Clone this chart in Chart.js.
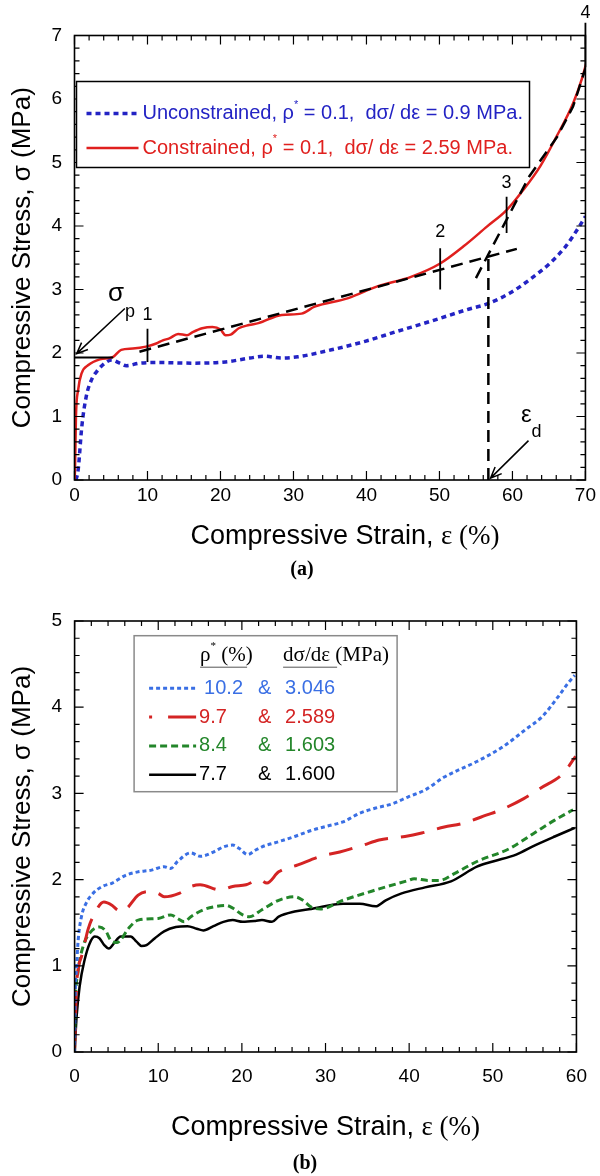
<!DOCTYPE html>
<html lang="en">
<head>
<meta charset="UTF-8">
<title>Compressive stress - strain</title>
<script src="https://cdn.jsdelivr.net/npm/chart.js"></script>
<style>
  body { margin: 0; background: #fff; }
  .box { position: absolute; left: 0; width: 600px; }
  #boxA { top: 0; height: 590px; }
  #boxB { top: 590px; height: 586px; }
  .cap { position: absolute; width: 80px; text-align: center; font: bold 20px "Liberation Serif"; color: #000; }
  #capA { left: 262px; top: 557px; }
  #capB { left: 265px; top: 1151px; }
</style>
</head>
<body>
  <div class="box" id="boxA"><canvas id="chartA" width="600" height="590"></canvas></div>
  <div class="cap" id="capA">(a)</div>
  <div class="box" id="boxB"><canvas id="chartB" width="600" height="586"></canvas></div>
  <div class="cap" id="capB">(b)</div>

<script>
// ---- (a) rho* = 0.1 ----
const strainUnc = [0.2, 0.5, 1.0, 1.6, 2.3, 3.2, 4.4, 5.1, 6.2, 7.1, 8.9, 11.6, 16.2, 20.7, 24, 26, 28.4, 30.6, 35.2, 39.7, 44.2, 48.8, 53.7, 56.7, 59.6, 62.3, 65.1, 67.3, 69.2, 70];
const stressUnc = [0, 0.16, 0.84, 1.31, 1.57, 1.73, 1.86, 1.89, 1.84, 1.80, 1.84, 1.85, 1.84, 1.86, 1.92, 1.95, 1.92, 1.94, 2.05, 2.18, 2.34, 2.50, 2.68, 2.78, 2.94, 3.15, 3.41, 3.68, 4.0, 4.15];
const strainCon = [0, 0.07, 0.2, 0.5, 0.97, 1.9, 3.5, 5.3, 6.4, 8.0, 9.8, 11.2, 12.1, 13.0, 14.2, 15.4, 16.2, 17.5, 18.9, 20.0, 20.7, 21.4, 22.5, 23.9, 25.2, 28.4, 31.1, 32.9, 37.4, 41.5, 46.1, 50.1, 53.3, 56.5, 59.2, 61.5, 63.8, 66.0, 68.3, 69.6, 70.2];
const stressCon = [0, 0.16, 1.0, 1.42, 1.68, 1.81, 1.90, 1.94, 2.05, 2.07, 2.10, 2.15, 2.20, 2.23, 2.30, 2.28, 2.33, 2.39, 2.41, 2.37, 2.28, 2.29, 2.39, 2.44, 2.47, 2.60, 2.62, 2.73, 2.86, 3.05, 3.20, 3.41, 3.68, 3.99, 4.25, 4.57, 4.94, 5.40, 5.93, 6.35, 6.60];
const fitPlateauStrain = [8.9, 60.6];
const fitPlateauStress = [2.02, 3.64];
const fitDensStrain = [55.0, 62.3, 66.1, 68.3, 70.4];
const fitDensStress = [3.18, 4.78, 5.40, 5.88, 6.62];
const sigmaPStrain = [0, 5.3];
const sigmaPStress = [1.93, 1.93];
const epsDStrain = [56.7, 56.7];
const epsDStress = [0, 3.5];
const markStrain = [10, 50.1, 59.2, 70];
const markLow = [1.86, 3.0, 3.89, 6.5];
const markHigh = [2.38, 3.65, 4.46, 7.2];
const markText = ['1', '2', '3', '4'];
const markTextStress = [2.6, 3.9, 4.68, 7.36];
const legendNamesA = ['Unconstrained', 'Constrained'];
const rhoA = ['0.1', '0.1'];
const slopeA = ['0.9', '2.59'];

// ---- (b) four densities ----
const densB = ['10.2', '9.7', '8.4', '7.7'];
const slopeB = ['3.046', '2.589', '1.603', '1.600'];
const strainB1 = [0, 0.05, 0.24, 0.43, 0.82, 1.4, 2.2, 3.3, 4.5, 6.1, 7.6, 9.2, 10.7, 11.5, 12.3, 13.9, 15.0, 16.6, 17.8, 18.9, 19.7, 20.7, 21.6, 22.4, 24.4, 26.3, 28.3, 30.2, 32.1, 34.1, 36.0, 38.0, 39.9, 41.9, 44.2, 48.1, 51.2, 53.9, 55.9, 57.8, 59.0, 59.8];
const stressB1 = [0, 0.53, 0.99, 1.3, 1.57, 1.73, 1.84, 1.92, 1.96, 2.05, 2.09, 2.11, 2.15, 2.13, 2.21, 2.31, 2.27, 2.32, 2.38, 2.40, 2.36, 2.29, 2.34, 2.38, 2.44, 2.50, 2.57, 2.62, 2.67, 2.77, 2.83, 2.88, 2.96, 3.04, 3.19, 3.37, 3.54, 3.74, 3.89, 4.12, 4.28, 4.37];
const strainB2 = [0, 0.2, 0.5, 0.83, 1.2, 1.6, 2.2, 3.5, 4.5, 5.1, 5.7, 6.3, 7.6, 8.8, 10.0, 10.7, 12.5, 13.9, 15.0, 17.4, 18.9, 20.5, 22.1, 23.0, 24.4, 26.7, 29.4, 31.7, 34.5, 36.4, 39.5, 41.5, 44.2, 46.3, 49.3, 51.0, 53.7, 55.7, 58.4, 59.9];
const stressB2 = [0, 0.7, 1.0, 1.11, 1.26, 1.42, 1.57, 1.74, 1.70, 1.65, 1.63, 1.67, 1.82, 1.86, 1.84, 1.80, 1.84, 1.92, 1.94, 1.88, 1.92, 1.94, 2.0, 1.96, 2.09, 2.17, 2.27, 2.32, 2.40, 2.46, 2.50, 2.54, 2.61, 2.65, 2.75, 2.81, 2.94, 3.06, 3.23, 3.43];
const strainB3 = [0, 0.05, 0.4, 1.0, 1.8, 2.97, 3.75, 4.3, 5.1, 5.5, 6.5, 7.6, 10.0, 11.5, 12.3, 13.1, 13.9, 15.4, 17.0, 18.1, 18.9, 20.1, 20.9, 22.4, 24.4, 26.3, 27.3, 28.3, 29.4, 32.1, 36.0, 39.9, 40.6, 42.3, 43.6, 45.4, 48.1, 52.0, 55.1, 57.4, 59.6];
const stressB3 = [0, 0.41, 0.92, 1.22, 1.38, 1.45, 1.40, 1.30, 1.27, 1.30, 1.44, 1.53, 1.55, 1.59, 1.55, 1.51, 1.57, 1.65, 1.69, 1.70, 1.67, 1.59, 1.57, 1.65, 1.76, 1.80, 1.76, 1.68, 1.66, 1.76, 1.88, 1.99, 2.01, 1.99, 1.99, 2.07, 2.21, 2.36, 2.55, 2.69, 2.81];
const strainB4 = [0, 0.24, 0.6, 1.2, 1.8, 2.4, 2.97, 3.55, 4.1, 4.7, 5.5, 6.7, 7.4, 8.0, 8.6, 9.6, 10.7, 12.1, 13.5, 14.6, 15.4, 16.6, 17.8, 18.9, 20.1, 21.6, 22.4, 23.6, 24.4, 26.3, 28.3, 32.1, 34.1, 36.0, 37.2, 39.1, 41.9, 45.0, 48.1, 50.0, 52.8, 55.1, 57.4, 59.8];
const stressB4 = [0, 0.41, 0.76, 1.07, 1.26, 1.34, 1.32, 1.24, 1.20, 1.26, 1.34, 1.34, 1.28, 1.23, 1.24, 1.32, 1.40, 1.45, 1.46, 1.43, 1.41, 1.46, 1.51, 1.53, 1.51, 1.52, 1.53, 1.51, 1.57, 1.63, 1.66, 1.72, 1.72, 1.69, 1.76, 1.84, 1.91, 1.98, 2.15, 2.21, 2.29, 2.40, 2.50, 2.60];

const SANS = '"Liberation Sans", Arial, sans-serif';
const SERIF = '"Liberation Serif", "Times New Roman", serif';
const BLUE_A = '#2323c4', RED_A = '#e0201e';
const COLORS_B = ['#3a6fe4', '#d42424', '#23862a', '#000000'];
const DASH_B = [[4, 3], [24, 13], [7, 4], []];

Chart.defaults.font.family = SANS;
Chart.defaults.color = '#000';

function pts(xs, ys) {
  return xs.map(function (v, i) { return { x: v, y: ys[i] }; });
}

function drawParts(ctx, parts, x, y) {
  ctx.textBaseline = 'middle';
  ctx.textAlign = 'left';
  for (const p of parts) {
    ctx.font = p.font;
    ctx.fillStyle = p.color || '#000';
    ctx.fillText(p.t, x, y + (p.dy || 0));
    x += ctx.measureText(p.t).width;
  }
  return x;
}

function partsWidth(ctx, parts) {
  let w = 0;
  for (const p of parts) { ctx.font = p.font; w += ctx.measureText(p.t).width; }
  return w;
}

function arrow(ctx, x1, y1, x2, y2) {
  const ang = Math.atan2(y2 - y1, x2 - x1);
  ctx.beginPath();
  ctx.moveTo(x1, y1); ctx.lineTo(x2, y2);
  ctx.moveTo(x2 - 12 * Math.cos(ang - 0.4), y2 - 12 * Math.sin(ang - 0.4));
  ctx.lineTo(x2, y2);
  ctx.lineTo(x2 - 12 * Math.cos(ang + 0.4), y2 - 12 * Math.sin(ang + 0.4));
  ctx.stroke();
}

// frame with inward ticks on all four sides
const frameTicks = {
  id: 'frameTicks',
  afterDraw(chart, args, o) {
    const ctx = chart.ctx, a = chart.chartArea, x = chart.scales.x, y = chart.scales.y;
    ctx.save();
    ctx.strokeStyle = '#000';
    ctx.lineWidth = 1.2;
    ctx.beginPath();
    const nx = Math.round((x.max - x.min) / o.xMinor);
    for (let i = 0; i <= nx; i++) {
      const px = x.getPixelForValue(x.min + i * o.xMinor);
      const len = i % o.xEvery === 0 ? 9 : 5;
      ctx.moveTo(px, a.bottom); ctx.lineTo(px, a.bottom - len);
      ctx.moveTo(px, a.top); ctx.lineTo(px, a.top + len);
    }
    const ny = Math.round((y.max - y.min) / o.yMinor);
    for (let i = 0; i <= ny; i++) {
      const py = y.getPixelForValue(y.min + i * o.yMinor);
      const len = i % o.yEvery === 0 ? 9 : 5;
      ctx.moveTo(a.left, py); ctx.lineTo(a.left + len, py);
      ctx.moveTo(a.right, py); ctx.lineTo(a.right - len, py);
    }
    ctx.stroke();
    ctx.lineWidth = 1.6;
    ctx.strokeRect(a.left, a.top, a.right - a.left, a.bottom - a.top);
    // x axis title (sans + serif parts)
    const parts = [
      { t: 'Compressive Strain, ', font: '27px ' + SANS },
      { t: 'ε (%)', font: '27px ' + SERIF }
    ];
    const w = partsWidth(ctx, parts);
    drawParts(ctx, parts, (a.left + a.right) / 2 + o.titleDx - w / 2, a.bottom + o.titleDy);
    ctx.restore();
  }
};

// annotations and legend of chart (a)
const notesA = {
  id: 'notesA',
  afterDraw(chart) {
    const ctx = chart.ctx, a = chart.chartArea, x = chart.scales.x, y = chart.scales.y;
    ctx.save();
    ctx.strokeStyle = '#000';
    ctx.fillStyle = '#000';
    ctx.lineWidth = 1.8;
    ctx.beginPath();
    for (let i = 0; i < markStrain.length; i++) {
      const px = x.getPixelForValue(markStrain[i]);
      ctx.moveTo(px, y.getPixelForValue(markLow[i]));
      ctx.lineTo(px, y.getPixelForValue(markHigh[i]));
    }
    ctx.stroke();
    ctx.font = '18px ' + SANS;
    ctx.textAlign = 'center';
    ctx.textBaseline = 'middle';
    for (let i = 0; i < markText.length; i++) {
      ctx.fillText(markText[i], x.getPixelForValue(markStrain[i]), y.getPixelForValue(markTextStress[i]));
    }
    // sigma_p
    ctx.font = '26px ' + SANS;
    ctx.fillText('σ', x.getPixelForValue(5.7), y.getPixelForValue(2.93));
    ctx.font = '18px ' + SANS;
    ctx.fillText('p', x.getPixelForValue(7.6), y.getPixelForValue(2.64));
    ctx.lineWidth = 1.5;
    arrow(ctx, x.getPixelForValue(6.9), y.getPixelForValue(2.70), x.getPixelForValue(0.3), y.getPixelForValue(1.99));
    // eps_d
    ctx.font = '24px ' + SANS;
    ctx.fillText('ε', x.getPixelForValue(61.9), y.getPixelForValue(1.02));
    ctx.font = '18px ' + SANS;
    ctx.fillText('d', x.getPixelForValue(63.3), y.getPixelForValue(0.76));
    arrow(ctx, x.getPixelForValue(62.2), y.getPixelForValue(0.62), x.getPixelForValue(57.0), y.getPixelForValue(0.03));

    // legend box
    const bx = a.left + 2, by = a.top + 46, bw = 453, bh = 86;
    ctx.fillStyle = '#fff';
    ctx.fillRect(bx, by, bw, bh);
    ctx.lineWidth = 1.5;
    ctx.strokeRect(bx, by, bw, bh);
    const cols = [BLUE_A, RED_A];
    const dashes = [[5, 4], []];
    for (let i = 0; i < legendNamesA.length; i++) {
      const ly = by + 32 + i * 34.5;
      ctx.strokeStyle = cols[i];
      ctx.lineWidth = i === 0 ? 3.5 : 2.5;
      ctx.setLineDash(dashes[i]);
      ctx.beginPath();
      ctx.moveTo(bx + 10, ly); ctx.lineTo(bx + 62, ly);
      ctx.stroke();
      ctx.setLineDash([]);
      const f = '20px ' + SANS;
      drawParts(ctx, [
        { t: legendNamesA[i] + ', ρ', font: f, color: cols[i] },
        { t: '*', font: '11px ' + SANS, color: cols[i], dy: -9 },
        { t: ' = ' + rhoA[i] + ',  dσ/ dε = ' + slopeA[i] + ' MPa.', font: f, color: cols[i] }
      ], bx + 66, ly);
    }
    ctx.restore();
  }
};

// legend table of chart (b)
const legendB = {
  id: 'legendB',
  afterDraw(chart) {
    const ctx = chart.ctx, a = chart.chartArea;
    ctx.save();
    const bx = a.left + 59.5, by = a.top + 14.7, bw = 263, bh = 156;
    ctx.fillStyle = '#fff';
    ctx.fillRect(bx, by, bw, bh);
    ctx.strokeStyle = '#8a8a8a';
    ctx.lineWidth = 1.5;
    ctx.strokeRect(bx, by, bw, bh);
    // header
    const hy = by + 19.5;
    const hf = '21px ' + SERIF;
    drawParts(ctx, [
      { t: 'ρ', font: hf },
      { t: '*', font: '11px ' + SERIF, dy: -9 },
      { t: ' (%)', font: hf }
    ], bx + 66, hy);
    ctx.strokeStyle = '#555';
    ctx.lineWidth = 1;
    ctx.beginPath();
    ctx.moveTo(bx + 66, hy + 12); ctx.lineTo(bx + 113, hy + 12);
    ctx.moveTo(bx + 149, hy + 12); ctx.lineTo(bx + 203, hy + 12);
    ctx.stroke();
    drawParts(ctx, [{ t: 'dσ/dε (MPa)', font: hf }], bx + 149, hy);
    // rows
    for (let i = 0; i < densB.length; i++) {
      const ly = by + 52.6 + i * 28.8;
      ctx.strokeStyle = COLORS_B[i];
      ctx.lineWidth = i === 3 ? 2.5 : 3;
      ctx.setLineDash(i === 1 ? [3, 16, 30, 20] : DASH_B[i]);
      ctx.beginPath();
      ctx.moveTo(bx + 15, ly); ctx.lineTo(bx + 62, ly);
      ctx.stroke();
      ctx.setLineDash([]);
      const f = '20px ' + SANS;
      drawParts(ctx, [{ t: densB[i], font: f, color: COLORS_B[i] }], bx + (i === 0 ? 70 : 65), ly);
      drawParts(ctx, [{ t: '&', font: f, color: COLORS_B[i] }], bx + 124, ly);
      drawParts(ctx, [{ t: slopeB[i], font: f, color: COLORS_B[i] }], bx + 151, ly);
    }
    ctx.restore();
  }
};

function lineSet(xs, ys, color, width, dash, smooth) {
  return {
    data: pts(xs, ys),
    borderColor: color,
    borderWidth: width,
    borderDash: dash,
    pointRadius: 0,
    fill: false,
    cubicInterpolationMode: smooth ? 'monotone' : 'default',
    tension: 0
  };
}

function axes(xMax, yMax, yWidth, xHeight, xPad) {
  return {
    x: {
      type: 'linear', min: 0, max: xMax,
      grid: { display: false, drawTicks: false },
      border: { display: false },
      ticks: { stepSize: 10, padding: xPad, font: { size: 19 }, color: '#000' },
      afterFit: function (s) { s.height = xHeight; }
    },
    y: {
      min: 0, max: yMax,
      grid: { display: false, drawTicks: false },
      border: { display: false },
      ticks: { stepSize: 1, padding: 12.5, font: { size: 19 }, color: '#000' },
      title: { display: true, text: 'Compressive Stress, σ (MPa)', font: { size: 26 }, color: '#000', padding: { top: 7, bottom: 0 } },
      afterFit: function (s) { s.width = yWidth; }
    }
  };
}

new Chart(document.getElementById('chartA'), {
  type: 'line',
  data: {
    datasets: [
      lineSet(fitPlateauStrain, fitPlateauStress, '#000', 2.5, [12, 7], false),
      lineSet(fitDensStrain, fitDensStress, '#000', 2.5, [12, 7], false),
      lineSet(epsDStrain, epsDStress, '#000', 2.5, [12, 7], false),
      lineSet(sigmaPStrain, sigmaPStress, '#000', 2, [], false),
      lineSet(strainCon, stressCon, RED_A, 2.5, [], true),
      lineSet(strainUnc, stressUnc, BLUE_A, 3.5, [5, 4], true)
    ]
  },
  options: {
    responsive: false,
    animation: false,
    layout: { padding: { top: 35.5, right: 10.5, left: 0, bottom: 0 } },
    plugins: { legend: { display: false }, tooltip: { enabled: false },
      frameTicks: { xMinor: 2, xEvery: 5, yMinor: 0.2, yEvery: 5, titleDx: 15, titleDy: 57 } },
    scales: axes(70, 7, 74.5, 110, 4)
  },
  plugins: [frameTicks, notesA]
});

const seriesB = [[strainB1, stressB1], [strainB2, stressB2], [strainB3, stressB3], [strainB4, stressB4]];
new Chart(document.getElementById('chartB'), {
  type: 'line',
  data: {
    datasets: seriesB.map(function (s, i) {
      return lineSet(s[0], s[1], COLORS_B[i], i === 3 ? 2.5 : 3, DASH_B[i], true);
    })
  },
  options: {
    responsive: false,
    animation: false,
    layout: { padding: { top: 31, right: 11.5, left: 0, bottom: 0 } },
    plugins: { legend: { display: false }, tooltip: { enabled: false },
      frameTicks: { xMinor: 2, xEvery: 5, yMinor: 0.2, yEvery: 5, titleDx: 0, titleDy: 75.5 } },
    scales: axes(60, 5, 74.6, 124, 13)
  },
  plugins: [frameTicks, legendB]
});
</script>
</body>
</html>
